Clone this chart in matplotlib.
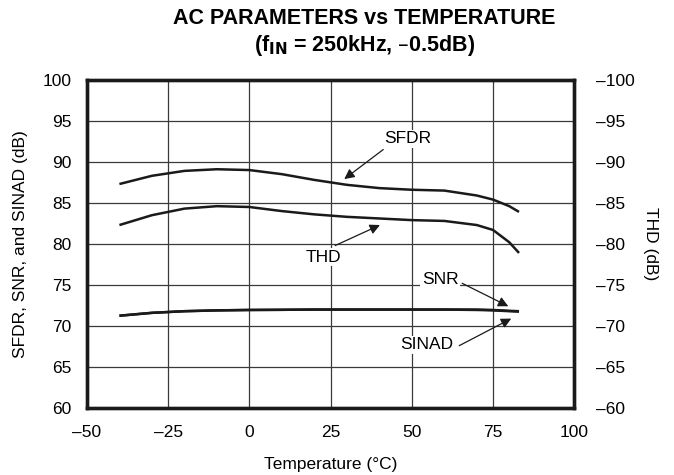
import matplotlib
matplotlib.use("Agg")
import matplotlib.pyplot as plt

plt.rcParams['font.family'] = ['Liberation Sans', 'DejaVu Sans']

# 読み取りデータ
temp = [-40, -30, -20, -10, 0, 10, 20, 30, 40, 50, 60, 70, 75, 80, 83]
sfdr = [87.3, 88.3, 88.9, 89.1, 89.0, 88.5, 87.8, 87.2, 86.8, 86.6, 86.5, 85.9, 85.4, 84.6, 83.9]
thd = [82.3, 83.5, 84.3, 84.6, 84.5, 84.0, 83.6, 83.3, 83.1, 82.9, 82.8, 82.3, 81.7, 80.2, 78.9]
snr = [71.25, 71.6, 71.8, 71.9, 71.95, 71.97, 72.0, 72.0, 72.0, 72.0, 72.0, 72.0, 71.95, 71.85, 71.8]
sinad = [71.25, 71.6, 71.8, 71.9, 71.95, 71.97, 72.0, 72.0, 72.0, 72.0, 72.0, 71.95, 71.9, 71.8, 71.75]

x_ticks = [-50, -25, 0, 25, 50, 75, 100]
x_labels = ["\u201350", "\u201325", "0", "25", "50", "75", "100"]
y_ticks = [60, 65, 70, 75, 80, 85, 90, 95, 100]
y2_ticks = [-60, -65, -70, -75, -80, -85, -90, -95, -100]
y2_labels = ["\u2013" + str(-v) for v in y2_ticks]

fs = 12.5
fig = plt.figure(figsize=(6.74, 4.75), dpi=100)
ax = fig.add_axes([0.129, 0.141, 0.723, 0.691])

ax.set_xlim(-50, 100)
ax.set_ylim(60, 100)
ax.set_xticks(x_ticks)
ax.set_xticklabels(x_labels)
ax.set_yticks(y_ticks)
ax.grid(True, color="#3a3a3a", linewidth=0.9)
ax.tick_params(axis="x", length=0, labelsize=fs, pad=12)
ax.tick_params(axis="y", length=0, labelsize=fs, pad=11)
for s in ax.spines.values():
    s.set_linewidth(2.4)
    s.set_color("#1a1a1a")

lw = 1.8
ax.plot(temp, sfdr, color="#1a1a1a", linewidth=lw, solid_capstyle="butt")
ax.plot(temp, thd, color="#1a1a1a", linewidth=lw, solid_capstyle="butt")
ax.plot(temp, snr, color="#1a1a1a", linewidth=lw, solid_capstyle="butt")
ax.plot(temp, sinad, color="#1a1a1a", linewidth=lw, solid_capstyle="butt")

ax.set_xlabel("Temperature (\u00b0C)", fontsize=fs, va="center")
ax.set_ylabel("SFDR, SNR, and SINAD (dB)", fontsize=fs, va="center")
ax.xaxis.set_label_coords(0.5, -0.171)
ax.yaxis.set_label_coords(-0.1355, 0.5)

ax2 = ax.twinx()
ax2.set_ylim(-60, -100)
ax2.set_yticks(y2_ticks)
ax2.set_yticklabels(y2_labels)
ax2.tick_params(length=0, labelsize=fs, pad=16)
ax2.set_ylabel("THD (dB)", fontsize=fs, rotation=-90, va="center")
ax2.yaxis.set_label_coords(1.156, 0.5)
for s in ax2.spines.values():
    s.set_linewidth(2.4)
    s.set_color("#1a1a1a")

arrow = dict(arrowstyle="-|>", color="#1a1a1a", lw=0.9, mutation_scale=15,
             shrinkA=0, shrinkB=0)
bb = dict(boxstyle="square,pad=0.1", fc="white", ec="none")
ax.annotate("", xy=(29.2, 87.9), xytext=(41.2, 91.5), arrowprops=arrow)
ax.text(48.9, 92.8, "SFDR", ha="center", va="center", fontsize=fs, bbox=bb)
ax.annotate("", xy=(40.2, 82.3), xytext=(26.4, 79.8), arrowprops=arrow)
ax.text(22.7, 78.4, "THD", ha="center", va="center", fontsize=fs, bbox=bb)
ax.annotate("", xy=(79.7, 72.4), xytext=(65.5, 75.2), arrowprops=arrow)
ax.text(58.7, 75.7, "SNR", ha="center", va="center", fontsize=fs, bbox=bb)
ax.annotate("", xy=(80.6, 70.9), xytext=(64.6, 67.6), arrowprops=arrow)
ax.text(54.7, 67.7, "SINAD", ha="center", va="center", fontsize=fs, bbox=bb)

fig.text(0.541, 0.96, "AC PARAMETERS vs TEMPERATURE", ha="center", va="center",
         fontsize=15.5, fontweight="bold")
fig.text(0.541, 0.905, "(f$_{\\mathbf{IN}}$ = 250kHz, \u20130.5dB)", ha="center", va="center",
         fontsize=15.5, fontweight="bold")

fig.savefig("out.png", dpi=100)
